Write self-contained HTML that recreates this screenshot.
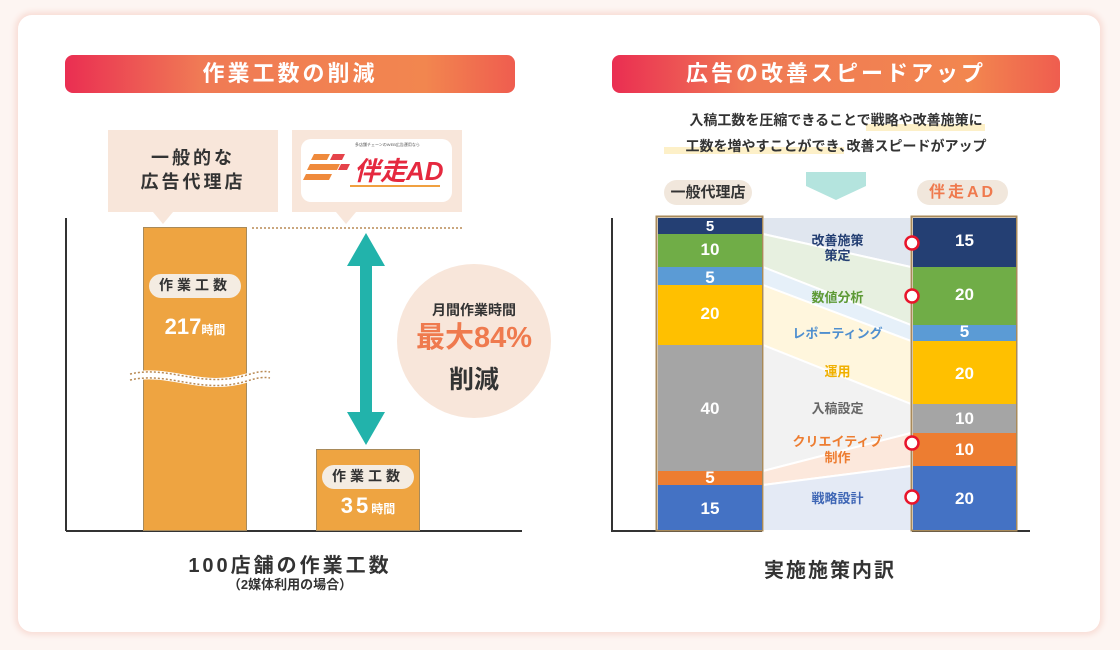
<!DOCTYPE html>
<html><head><meta charset="utf-8"><style>
body{margin:0;width:1120px;height:650px;background:#fdf5f2;font-family:"Liberation Sans","Noto Sans CJK JP",sans-serif;position:relative;overflow:hidden}
.a{position:absolute}
.card{left:18px;top:15px;width:1082px;height:617px;background:#fff;border-radius:14px;box-shadow:0 0 6px 3px #f8ddd6}
.hd{height:38px;border-radius:8px;background:linear-gradient(90deg,#ea2e52,#f07a55 30%,#f2864f 80%,#ef5d4f);color:#fff;font-weight:bold;font-size:22px;letter-spacing:3px;text-align:center;line-height:38px}
.c{text-align:center;font-weight:bold}
.pill{background:#f1e7dc;border-radius:14px;font-size:16px;font-weight:bold;color:#333;text-align:center;letter-spacing:3px}
</style></head><body>
<div class="a card"></div>
<div class="a hd" style="left:65px;top:55px;width:450px">作業工数の削減</div>
<div class="a hd" style="left:612px;top:55px;width:448px">広告の改善スピードアップ</div>

<svg class="a" style="left:0;top:0" width="1120" height="650">
<rect x="108" y="130" width="170" height="82" fill="#f8e6da"/>
<polygon points="153,212 173,212 163,224" fill="#f8e6da"/>
<rect x="292" y="130" width="170" height="82" fill="#f8e6da"/>
<polygon points="336,212 356,212 346,224" fill="#f8e6da"/>
<rect x="301" y="139" width="151" height="63" rx="10" fill="#fff"/>
<g fill="#ef8a3c">
<polygon points="314,154 330,154 327,160 311,160"/>
<polygon points="310,164 340,164 337,170 307,170"/>
<polygon points="306,174 332,174 329,180 303,180"/>
<polygon points="333,154 345,154 342,160 330,160" fill="#e5434a"/>
<polygon points="341,164 350,164 347,170 338,170" fill="#e5434a"/>
</g>
<text x="354" y="180" font-size="26" font-weight="bold" font-style="italic" fill="#e5293f" font-family="Liberation Sans,Noto Sans CJK JP,sans-serif">伴走AD</text>
<line x1="350" y1="186" x2="440" y2="186" stroke="#f0a040" stroke-width="2"/>
<line x1="66" y1="218" x2="66" y2="531" stroke="#333" stroke-width="2"/>
<line x1="66" y1="531" x2="522" y2="531" stroke="#333" stroke-width="2"/>
<rect x="143.5" y="227.5" width="103" height="303" fill="#eea441" stroke="#a88a5a"/>
<rect x="316.5" y="449.5" width="103" height="81" fill="#eea441" stroke="#a88a5a"/>
<path d="M130,377 C170,368 200,392 247,378 C260,374 264,374 270,375" stroke="#fff" stroke-width="9" fill="none"/>
<path d="M130,377 C170,368 200,392 247,378 C260,374 264,374 270,375" stroke="#b98a55" stroke-width="1.5" stroke-dasharray="2 2" fill="none" transform="translate(0,-3)"/>
<path d="M130,377 C170,368 200,392 247,378 C260,374 264,374 270,375" stroke="#b98a55" stroke-width="1.5" stroke-dasharray="2 2" fill="none" transform="translate(0,3)"/>
<line x1="252" y1="228" x2="463" y2="228" stroke="#b98a55" stroke-width="1.5" stroke-dasharray="2 2"/>
<polygon points="366,233 385,266 372,266 372,412 385,412 366,445 347,412 360,412 360,266 347,266" fill="#22b3ab"/>
<circle cx="474" cy="341" r="77" fill="#f8e6da"/>
<rect x="149" y="274" width="92" height="24" rx="12" fill="#f4ece2"/>
<rect x="322" y="465" width="92" height="24" rx="12" fill="#f4ece2"/>

<line x1="612" y1="218" x2="612" y2="532" stroke="#333" stroke-width="2"/>
<line x1="612" y1="531" x2="1030" y2="531" stroke="#333" stroke-width="2"/>
<g stroke="#fff" stroke-width="2">
<polygon points="763,217 911,217 911,267 763,234" fill="#e0e6ef"/>
<polygon points="763,234 911,267 911,325 763,267" fill="#e7f0e0"/>
<polygon points="763,267 911,325 911,341 763,285" fill="#e6f0f9"/>
<polygon points="763,285 911,341 911,404 763,345" fill="#fff6dd"/>
<polygon points="763,345 911,404 911,433 763,471" fill="#f2f2f2"/>
<polygon points="763,471 911,433 911,466 763,485" fill="#fce8dc"/>
<polygon points="763,485 911,466 911,531 763,531" fill="#e4eaf5"/>
</g>
<rect x="656.5" y="216.5" width="106" height="314" fill="none" stroke="#a88a5a" stroke-width="2"/>
<rect x="658" y="218" width="104" height="16" fill="#243f73"/>
<rect x="658" y="234" width="104" height="33" fill="#70ad47"/>
<rect x="658" y="267" width="104" height="18" fill="#5b9bd5"/>
<rect x="658" y="285" width="104" height="60" fill="#ffc000"/>
<rect x="658" y="345" width="104" height="126" fill="#a5a5a5"/>
<rect x="658" y="471" width="104" height="14" fill="#ed7d31"/>
<rect x="658" y="485" width="104" height="45" fill="#4472c4"/>
<rect x="911.5" y="216.5" width="105" height="314" fill="none" stroke="#a88a5a" stroke-width="2"/>
<rect x="913" y="218" width="103" height="49" fill="#243f73"/>
<rect x="913" y="267" width="103" height="58" fill="#70ad47"/>
<rect x="913" y="325" width="103" height="16" fill="#5b9bd5"/>
<rect x="913" y="341" width="103" height="63" fill="#ffc000"/>
<rect x="913" y="404" width="103" height="29" fill="#a5a5a5"/>
<rect x="913" y="433" width="103" height="33" fill="#ed7d31"/>
<rect x="913" y="466" width="103" height="64" fill="#4472c4"/>
<g fill="#fff" stroke="#e8152b" stroke-width="2.5">
<circle cx="912" cy="243" r="6.5"/><circle cx="912" cy="296" r="6.5"/><circle cx="912" cy="443" r="6.5"/><circle cx="912" cy="497" r="6.5"/></g>
<polygon points="806,172 866,172 866,186 836,200 806,186" fill="#b4e4de"/>
<rect x="866" y="124" width="119" height="7" fill="#fdf0c8"/>
<rect x="664" y="147" width="180" height="7" fill="#fdf0c8"/>
</svg>

<div class="a c" style="left:108px;top:146px;width:170px;font-size:18px;line-height:24px;color:#333;letter-spacing:3px">一般的な<br>広告代理店</div>
<div class="a" style="left:355px;top:142px;font-size:4px;color:#555">多店舗チェーンのWEB広告運用なら</div>
<div class="a c" style="left:149px;top:275px;width:92px;font-size:14px;color:#333;letter-spacing:4px">作業工数</div>
<div class="a c" style="left:143px;top:314px;width:104px;font-size:22px;color:#fff">217<span style="font-size:12px">時間</span></div>
<div class="a c" style="left:322px;top:466px;width:92px;font-size:14px;color:#333;letter-spacing:4px">作業工数</div>
<div class="a c" style="left:316px;top:493px;width:104px;font-size:22px;color:#fff;letter-spacing:3px">35<span style="font-size:12px;letter-spacing:0">時間</span></div>
<div class="a c" style="left:397px;top:300px;width:154px;font-size:14px;color:#333">月間作業時間</div>
<div class="a c" style="left:397px;top:320px;width:154px;font-size:29px;color:#ef7a4e;line-height:36px">最大84%</div>
<div class="a c" style="left:397px;top:360px;width:154px;font-size:25px;color:#333">削減</div>
<div class="a c" style="left:90px;top:549px;width:400px;font-size:20px;color:#333;letter-spacing:3px">100店舗の作業工数</div>
<div class="a c" style="left:90px;top:574px;width:400px;font-size:13px;color:#333">（2媒体利用の場合）</div>

<div class="a c" style="left:612px;top:107px;width:448px;font-size:14px;line-height:26px;color:#333">入稿工数を圧縮できることで戦略や改善施策に<br>工数を増やすことができ､改善スピードがアップ</div>
<div class="a pill" style="left:664px;top:180px;width:88px;height:25px;line-height:25px;letter-spacing:0;font-size:15px">一般代理店</div>
<div class="a pill" style="left:917px;top:180px;width:91px;height:25px;line-height:25px;color:#ef7a4e">伴走AD</div>
<div class="a c" style="left:658px;top:218px;width:104px;font-size:15px;line-height:18px;color:#fff">5</div>
<div class="a c" style="left:658px;top:240px;width:104px;font-size:17px;color:#fff">10</div>
<div class="a c" style="left:658px;top:268px;width:104px;font-size:17px;color:#fff">5</div>
<div class="a c" style="left:658px;top:304px;width:104px;font-size:17px;color:#fff">20</div>
<div class="a c" style="left:658px;top:399px;width:104px;font-size:17px;color:#fff">40</div>
<div class="a c" style="left:658px;top:468px;width:104px;font-size:17px;color:#fff">5</div>
<div class="a c" style="left:658px;top:499px;width:104px;font-size:17px;color:#fff">15</div>
<div class="a c" style="left:913px;top:231px;width:103px;font-size:17px;color:#fff">15</div>
<div class="a c" style="left:913px;top:285px;width:103px;font-size:17px;color:#fff">20</div>
<div class="a c" style="left:913px;top:322px;width:103px;font-size:17px;color:#fff">5</div>
<div class="a c" style="left:913px;top:364px;width:103px;font-size:17px;color:#fff">20</div>
<div class="a c" style="left:913px;top:409px;width:103px;font-size:17px;color:#fff">10</div>
<div class="a c" style="left:913px;top:440px;width:103px;font-size:17px;color:#fff">10</div>
<div class="a c" style="left:913px;top:489px;width:103px;font-size:17px;color:#fff">20</div>
<div class="a c" style="left:770px;top:233px;width:135px;font-size:13px;line-height:15px;color:#243f73">改善施策<br>策定</div>
<div class="a c" style="left:770px;top:287px;width:135px;font-size:13px;color:#5e9a36">数値分析</div>
<div class="a c" style="left:770px;top:323px;width:135px;font-size:13px;color:#4f8fcf">レポーティング</div>
<div class="a c" style="left:770px;top:361px;width:135px;font-size:13px;color:#f0b000">運用</div>
<div class="a c" style="left:770px;top:398px;width:135px;font-size:13px;color:#666">入稿設定</div>
<div class="a c" style="left:770px;top:434px;width:135px;font-size:13px;line-height:16px;color:#ed7d31">クリエイティブ<br>制作</div>
<div class="a c" style="left:770px;top:488px;width:135px;font-size:13px;color:#3e66b5">戦略設計</div>
<div class="a c" style="left:612px;top:554px;width:436px;font-size:20px;color:#333;letter-spacing:2px">実施施策内訳</div>
</body></html>
